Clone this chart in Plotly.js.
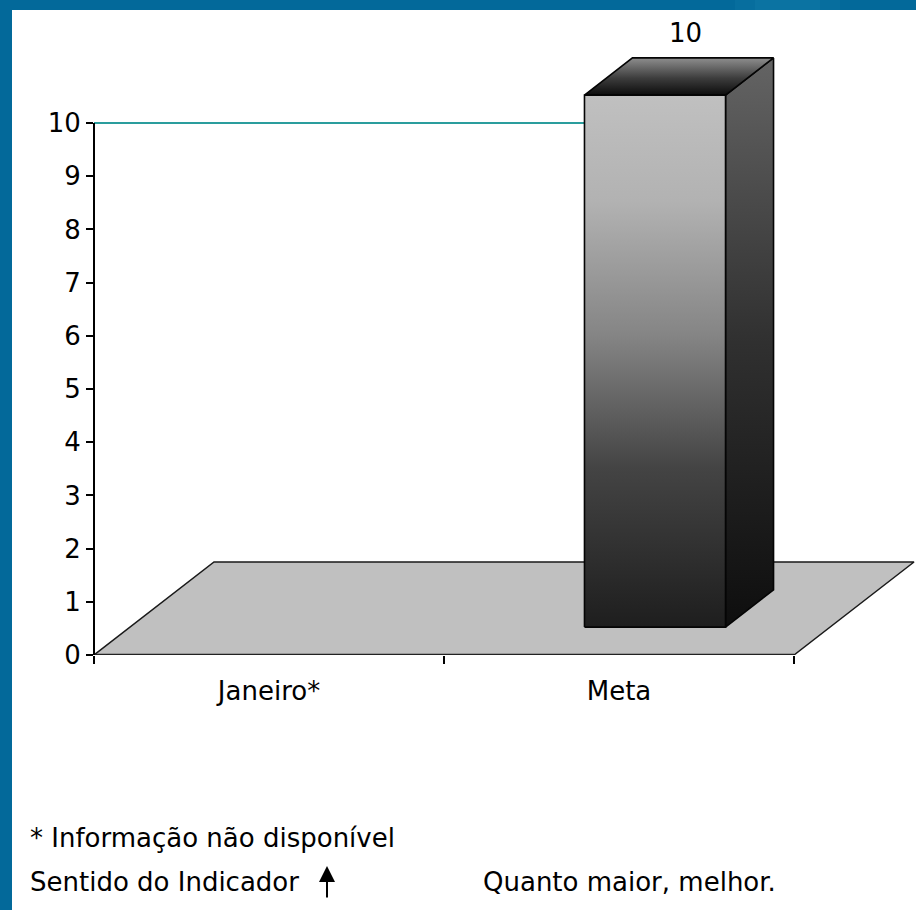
<!DOCTYPE html>
<html>
<head>
<meta charset="utf-8">
<script src="https://cdn.plot.ly/plotly-3.0.1.min.js"></script>
<style>
  html, body { margin: 0; padding: 0; background: #ffffff; }
  #chart { width: 916px; height: 910px; }
</style>
</head>
<body>
<div id="chart"></div>
<script>
// Indicator values per period; null = not available
const categories = ['Janeiro*', 'Meta'];
const values = [null, 10];
const yTickVals = [0, 1, 2, 3, 4, 5, 6, 7, 8, 9, 10];
const footNote = '* Informação não disponível';
const directionLabel = 'Sentido do Indicador';
const directionText = 'Quanto maior, melhor.';

// Figure geometry
const FIG_W = 916, FIG_H = 910;
const M = { l: 94, r: 0, t: 43, b: 255 };
const PLOT_W = FIG_W - M.l - M.r;
const PLOT_H = FIG_H - M.t - M.b;
const PX_PER_CAT = 350;      // horizontal scale of one category slot
const PX_PER_UNIT = 53.2;    // vertical scale of one value unit
const xRange = [-0.5, -0.5 + PLOT_W / PX_PER_CAT];
const yRange = [0, PLOT_H / PX_PER_UNIT];

// Oblique 3D projection: full floor depth expressed in axis units
const DEPTH_X = 120 / PX_PER_CAT;
const DEPTH_Y = 93 / PX_PER_UNIT;
const BAR_D0 = 0.3, BAR_D1 = 0.7;   // bar front/back depth fractions
const BAR_W = 0.403;                // bar width in category units

const FONT = 'DejaVu Sans, Verdana, sans-serif';
const FONT_SIZE = 26;
const FRAME_BLUE = '#03699a';

const catIdx = categories.map((_, i) => i);
const xLo = -0.5, xHi = categories.length - 0.5;

const traces = [];

// Floor of the 3D plot
traces.push({
  type: 'scatter', mode: 'lines', hoverinfo: 'skip', showlegend: false,
  x: [xLo, xHi, xHi + DEPTH_X, xLo + DEPTH_X, xLo],
  y: [0, 0, DEPTH_Y, DEPTH_Y, 0],
  fill: 'toself', fillcolor: '#c0c0c0',
  line: { color: '#1a1a1a', width: 1.5 }
});
// Front edge of floor, drawn heavier
traces.push({
  type: 'scatter', mode: 'lines', hoverinfo: 'skip', showlegend: false,
  x: [xLo, xHi], y: [0, 0],
  line: { color: '#222222', width: 2.5 }
});

// Target line at the goal value, from the value axis to the goal column
const metaIdx = categories.indexOf('Meta');
traces.push({
  type: 'scatter', mode: 'lines', hoverinfo: 'skip', showlegend: false,
  x: [xLo, catIdx[metaIdx]], y: [values[metaIdx], values[metaIdx]],
  line: { color: '#2a9d9d', width: 2 }
});

const annotations = [];

// 3D columns
values.forEach((v, i) => {
  if (v === null || v === undefined) return;
  const c = catIdx[i];
  const fx0 = c - BAR_W / 2 + BAR_D0 * DEPTH_X;
  const fx1 = c + BAR_W / 2 + BAR_D0 * DEPTH_X;
  const fyB = BAR_D0 * DEPTH_Y;
  const fyT = v + BAR_D0 * DEPTH_Y;
  const ddx = (BAR_D1 - BAR_D0) * DEPTH_X;
  const ddy = (BAR_D1 - BAR_D0) * DEPTH_Y;
  const edge = { color: '#050505', width: 1.6 };

  // side face
  traces.push({
    type: 'scatter', mode: 'lines', hoverinfo: 'skip', showlegend: false,
    x: [fx1, fx1 + ddx, fx1 + ddx, fx1, fx1],
    y: [fyB, fyB + ddy, fyT + ddy, fyT, fyB],
    fill: 'toself',
    fillgradient: { type: 'vertical', colorscale: [[0, '#0e0e0e'], [0.5, '#303030'], [1, '#646464']] },
    line: edge
  });
  // top face
  traces.push({
    type: 'scatter', mode: 'lines', hoverinfo: 'skip', showlegend: false,
    x: [fx0, fx1, fx1 + ddx, fx0 + ddx, fx0],
    y: [fyT, fyT, fyT + ddy, fyT + ddy, fyT],
    fill: 'toself',
    fillgradient: { type: 'vertical', colorscale: [[0, '#0c0c0c'], [0.45, '#3c3c3c'], [1, '#8e8e8e']] },
    line: edge
  });
  // front face
  traces.push({
    type: 'scatter', mode: 'lines', hoverinfo: 'skip', showlegend: false,
    x: [fx0, fx1, fx1, fx0, fx0],
    y: [fyB, fyB, fyT, fyT, fyB],
    fill: 'toself',
    fillgradient: {
      type: 'vertical',
      colorscale: [[0, '#1e1e1e'], [0.3, '#444444'], [0.55, '#858585'], [0.8, '#b2b2b2'], [1, '#c0c0c0']]
    },
    line: edge
  });

  // value label above the column
  annotations.push({
    xref: 'x', yref: 'y',
    x: c + (BAR_D0 + BAR_D1) / 2 * DEPTH_X, y: v + BAR_D1 * DEPTH_Y,
    text: String(v), showarrow: false,
    xanchor: 'center', yanchor: 'bottom', xshift: 6, yshift: 8,
    font: { family: FONT, size: FONT_SIZE, color: '#000000' }
  });
});

// helpers: figure pixels -> paper coordinates
const px2x = px => (px - M.l) / PLOT_W;
const px2y = py => (FIG_H - M.b - py) / PLOT_H;

// footnotes
annotations.push({
  xref: 'paper', yref: 'paper', x: px2x(28), y: px2y(838),
  text: footNote, showarrow: false, xanchor: 'left', yanchor: 'middle',
  font: { family: FONT, size: FONT_SIZE, color: '#000000' }
});
annotations.push({
  xref: 'paper', yref: 'paper', x: px2x(28), y: px2y(882),
  text: directionLabel, showarrow: false, xanchor: 'left', yanchor: 'middle',
  font: { family: FONT, size: FONT_SIZE, color: '#000000' }
});
annotations.push({
  xref: 'paper', yref: 'paper', x: px2x(481), y: px2y(882),
  text: directionText, showarrow: false, xanchor: 'left', yanchor: 'middle',
  font: { family: FONT, size: FONT_SIZE, color: '#000000' }
});
// upward arrow for "higher is better"
annotations.push({
  xref: 'paper', yref: 'paper', x: px2x(327), y: px2y(866),
  axref: 'pixel', ayref: 'pixel', ax: 0, ay: 33,
  text: '', showarrow: true, arrowhead: 2, arrowsize: 1.6, arrowwidth: 2,
  arrowcolor: '#000000'
});

const shapes = [
  // value axis line from 0 to 10
  {
    type: 'line', xref: 'paper', yref: 'y',
    x0: 0, x1: 0, y0: 0, y1: yTickVals[yTickVals.length - 1],
    line: { color: '#000000', width: 2 }
  },
  // slide frame: top and left blue bands
  {
    type: 'rect', xref: 'paper', yref: 'paper', layer: 'above',
    x0: px2x(0), x1: px2x(FIG_W), y0: px2y(10), y1: px2y(0),
    fillcolor: FRAME_BLUE, line: { width: 0 }
  },
  {
    type: 'rect', xref: 'paper', yref: 'paper', layer: 'above',
    x0: px2x(0), x1: px2x(12), y0: px2y(FIG_H), y1: px2y(0),
    fillcolor: FRAME_BLUE, line: { width: 0 }
  },
  // soft highlight in the top band
  {
    type: 'rect', xref: 'paper', yref: 'paper', layer: 'above',
    x0: px2x(735), x1: px2x(840), y0: px2y(10), y1: px2y(0),
    fillcolor: '#2a94bd', opacity: 0.12, line: { width: 0 }
  },
  {
    type: 'rect', xref: 'paper', yref: 'paper', layer: 'above',
    x0: px2x(755), x1: px2x(820), y0: px2y(10), y1: px2y(0),
    fillcolor: '#2a94bd', opacity: 0.15, line: { width: 0 }
  }
];

const layout = {
  width: FIG_W, height: FIG_H,
  margin: M,
  paper_bgcolor: '#ffffff', plot_bgcolor: 'rgba(0,0,0,0)',
  showlegend: false,
  font: { family: FONT, size: FONT_SIZE, color: '#000000' },
  xaxis: {
    range: xRange, fixedrange: true,
    showgrid: false, zeroline: false, showline: false,
    tickmode: 'array', tickvals: catIdx, ticktext: categories,
    ticks: '', ticklabelstandoff: 18,
    tickfont: { family: FONT, size: FONT_SIZE, color: '#000000' },
    minor: {
      tickmode: 'array', tickvals: [-0.5, 0.5, 1.5],
      ticks: 'outside', ticklen: 8, tickwidth: 2, tickcolor: '#000000', showgrid: false
    }
  },
  yaxis: {
    range: yRange, fixedrange: true,
    showgrid: false, zeroline: false, showline: false,
    tickmode: 'array', tickvals: yTickVals,
    ticks: 'outside', ticklen: 7, tickwidth: 2, tickcolor: '#000000',
    tickfont: { family: FONT, size: FONT_SIZE, color: '#000000' }
  },
  shapes: shapes,
  annotations: annotations
};

Plotly.newPlot('chart', traces, layout, { displayModeBar: false, staticPlot: true });
</script>
</body>
</html>
